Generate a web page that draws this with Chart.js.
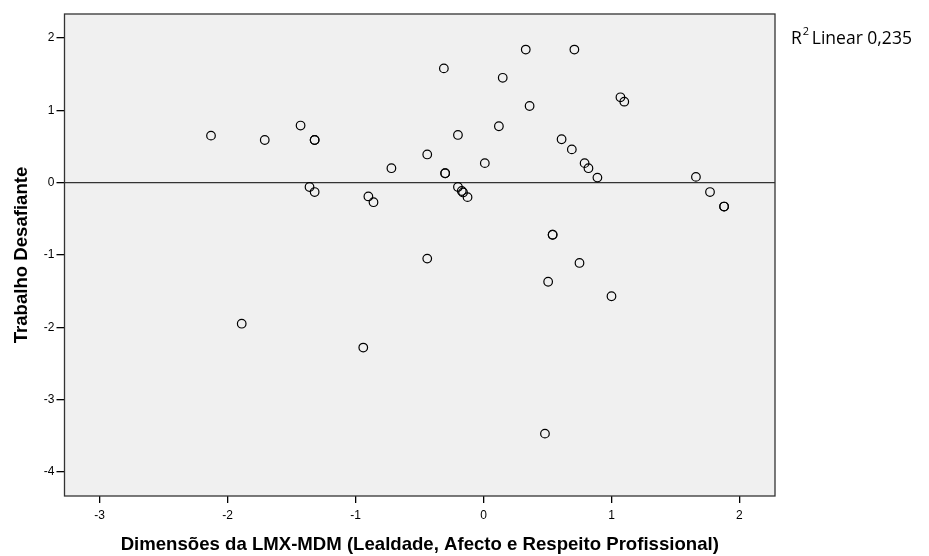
<!DOCTYPE html>
<html lang="pt">
<head>
  <meta charset="UTF-8" />
  <title>Trabalho Desafiante vs LMX-MDM</title>
  <style>
    html, body { margin: 0; padding: 0; background: #fff; }
    #wrap { width: 929px; height: 556px; position: relative; }
  </style>
</head>
<body>
  <div id="wrap"><canvas id="scatter"></canvas></div>

  <script src="https://cdn.jsdelivr.net/npm/chart.js"></script>
  <script>
    // valores (x = LMX-MDM, y = Trabalho Desafiante)
    const lmxValues = [
      -2.13, -1.71, -1.43, -1.32, -1.32, -1.36, -1.32, -0.90, -0.86, -0.72,
      -0.44, -0.44, -0.31, -0.30, -0.30, -0.20, -0.20, -0.17, -0.16, -0.125,
      -1.89, -0.94,
      0.01, 0.12, 0.15, 0.33, 0.36, 0.61, 0.69, 0.71, 0.79, 0.82,
      0.89, 1.07, 1.10, 1.66, 1.77, 1.88, 1.88, 0.54, 0.54, 0.75,
      0.505, 1.00, 0.48
    ];
    const trabalhoValues = [
      0.65, 0.59, 0.79, 0.59, 0.59, -0.06, -0.13, -0.19, -0.27, 0.20,
      0.39, -1.05, 1.58, 0.13, 0.13, 0.66, -0.06, -0.115, -0.135, -0.20,
      -1.95, -2.28,
      0.27, 0.78, 1.45, 1.84, 1.06, 0.60, 0.46, 1.84, 0.27, 0.20,
      0.07, 1.18, 1.12, 0.08, -0.13, -0.33, -0.33, -0.72, -0.72, -1.11,
      -1.37, -1.57, -3.47
    ];
    // linha de ajuste (R² Linear 0,235)
    const fitX = [-3.275, 2.278];
    const fitY = [0, 0];
    const xTicks = [-3, -2, -1, 0, 1, 2];
    const yTicks = [2, 1, 0, -1, -2, -3, -4];

    const points = lmxValues.map((v, i) => ({ x: v, y: trabalhoValues[i] }));
    const fitLine = fitX.map((v, i) => ({ x: v, y: fitY[i] }));

    // fundo cinzento e moldura da área do gráfico + texto R²
    const plotFrame = {
      id: 'plotFrame',
      beforeDraw(chart) {
        const a = chart.chartArea, c = chart.ctx;
        c.save();
        c.fillStyle = '#f0f0f0';
        c.fillRect(a.left, a.top, a.right - a.left, a.bottom - a.top);
        c.restore();
      },
      afterDraw(chart) {
        const a = chart.chartArea, c = chart.ctx;
        c.save();
        c.strokeStyle = '#333';
        c.lineWidth = 1.3;
        c.strokeRect(a.left, a.top, a.right - a.left, a.bottom - a.top);
        c.fillStyle = '#000';
        c.textBaseline = 'alphabetic';
        c.font = '17.5px "Open Sans"';
        c.fillText('R', 791, 44);
        const rw = c.measureText('R').width;
        c.font = '11px "Open Sans"';
        c.fillText('2', 791 + rw + 1, 35);
        c.font = '17.5px "Open Sans"';
        c.fillText('Linear 0,235', 791 + rw + 10, 44);
        c.restore();
      }
    };

    const tickFont = { family: '"Liberation Sans", Arial', size: 12 };
    const titleFont = { family: '"Liberation Sans", Arial', size: 18.6, weight: 'bold' };

    new Chart(document.getElementById('scatter'), {
      type: 'scatter',
      data: {
        datasets: [
          {
            label: 'Observado',
            data: points,
            pointRadius: 4.3,
            pointHoverRadius: 4.3,
            pointBorderWidth: 1.2,
            borderColor: '#000',
            backgroundColor: 'rgba(0,0,0,0)'
          },
          {
            type: 'line',
            label: 'Linear',
            data: fitLine,
            borderColor: '#333',
            borderWidth: 1.3,
            pointRadius: 0,
            fill: false
          }
        ]
      },
      options: {
        responsive: true,
        maintainAspectRatio: false,
        animation: false,
        layout: { padding: { left: 0, top: 14, right: 154, bottom: 0 } },
        plugins: { legend: { display: false }, tooltip: { enabled: false } },
        scales: {
          x: {
            type: 'linear',
            min: -3.275,
            max: 2.278,
            afterFit: s => { s.height = 60; },
            afterBuildTicks: s => { s.ticks = xTicks.map(v => ({ value: v })); },
            grid: { drawOnChartArea: false, drawTicks: true, tickLength: 7, color: '#000', lineWidth: 1.3 },
            border: { display: false },
            ticks: { color: '#000', font: tickFont, padding: 5, maxRotation: 0 },
            title: { display: true, text: 'Dimensões da LMX-MDM (Lealdade, Afecto e Respeito Profissional)', color: '#000', font: titleFont, padding: { top: 2, bottom: 0 } }
          },
          y: {
            type: 'linear',
            min: -4.332,
            max: 2.332,
            afterFit: s => { s.width = 64.5; },
            afterBuildTicks: s => { s.ticks = yTicks.map(v => ({ value: v })); },
            grid: { drawOnChartArea: false, drawTicks: true, tickLength: 8, color: '#000', lineWidth: 1.3 },
            border: { display: false },
            ticks: { color: '#000', font: tickFont, padding: 2 },
            title: { display: true, text: 'Trabalho Desafiante', color: '#000', font: titleFont, padding: { top: 11, bottom: 0 } }
          }
        }
      },
      plugins: [plotFrame]
    });
  </script>
</body>
</html>
